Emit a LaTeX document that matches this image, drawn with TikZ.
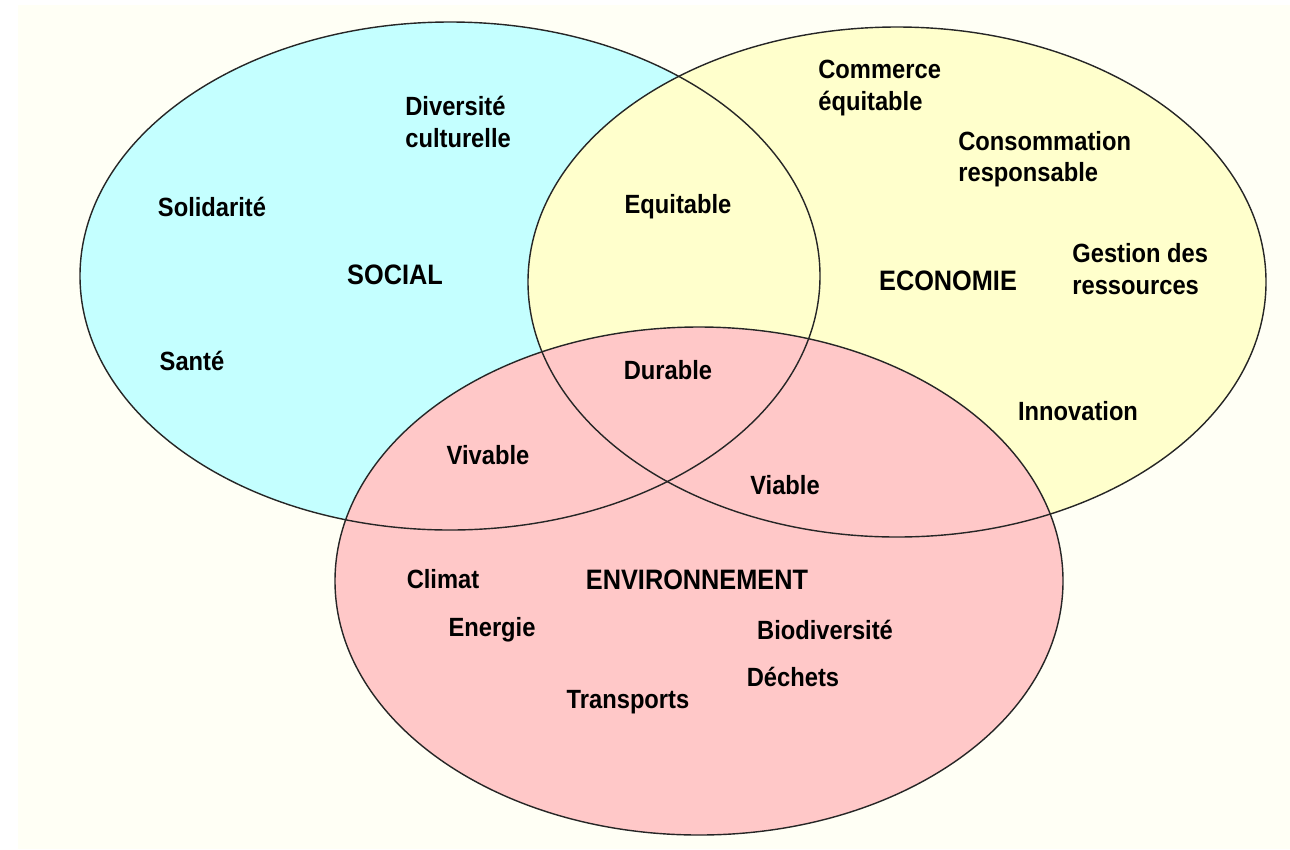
\documentclass[tikz,border=0pt]{standalone}
\usepackage{fontspec}
\setmainfont{Liberation Sans}[FakeStretch=0.9]
\usepackage{tikz}
\usetikzlibrary{positioning}

\definecolor{creme}{RGB}{255,255,245}
\definecolor{socialcol}{RGB}{196,255,255}
\definecolor{ecocol}{RGB}{255,255,204}
\definecolor{envcol}{RGB}{255,200,200}

\tikzset{
  lbl/.style={font=\bfseries\fontsize{15}{18}\selectfont, inner sep=0pt},
  ttl/.style={font=\bfseries\fontsize{16}{19}\selectfont, inner sep=0pt},
  rim/.style={line width=0.8pt, draw=black!85}
}

\begin{document}
\begin{tikzpicture}[x=0.02cm, y=-0.02cm]
    \useasboundingbox (0,0) rectangle (1290,849);
    \fill[white] (0,0) rectangle (1290,849);
    \fill[creme] (18,5) rectangle (1290,849);

    % the three sets
    \fill[socialcol] (450,276) ellipse (370 and 254);
    \fill[ecocol] (897,282) ellipse (369 and 255);
    \fill[envcol] (699,581) ellipse (364 and 254);
    \draw[rim] (450,276) ellipse (370 and 254);
    \draw[rim] (897,282) ellipse (369 and 255);
    \draw[rim] (699,581) ellipse (364 and 254);

    % social
    \node[ttl] (social) at (395,275) {SOCIAL};
    \node[lbl, anchor=west, align=left] (diversite) at (405,122) {Diversité\\culturelle};
    \node[lbl] (solidarite) at (212,207) {Solidarité};
    \node[lbl] (sante) at (192,361) {Santé};

    % economie
    \node[ttl] (economie) at (948,281) {ECONOMIE};
    \node[lbl, anchor=west, align=left] (commerce) at (818,88) {Commerce\\équitable};
    \node[lbl, anchor=west, align=left] (consommation) at (958,159) {Consommation\\responsable};
    \node[lbl, anchor=west, align=left] (gestion) at (1072,269) {Gestion des\\ressources};
    \node[lbl] (innovation) at (1078,411) {Innovation};

    % environnement
    \node[ttl] (environnement) at (697,580) {ENVIRONNEMENT};
    \node[lbl] (climat) at (443,579) {Climat};
    \node[lbl] (energie) at (492,630) {Energie};
    \node[lbl] (biodiversite) at (825,630) {Biodiversité};
    \node[lbl] (dechets) at (793,677) {Déchets};
    \node[lbl] (transports) at (628,702) {Transports};

    % intersections
    \node[lbl] (equitable) at (678,207) {Equitable};
    \node[lbl] (durable) at (668,370) {Durable};
    \node[lbl] (vivable) at (488,455) {Vivable};
    \node[lbl] (viable) at (785,485) {Viable};
\end{tikzpicture}
\end{document}
